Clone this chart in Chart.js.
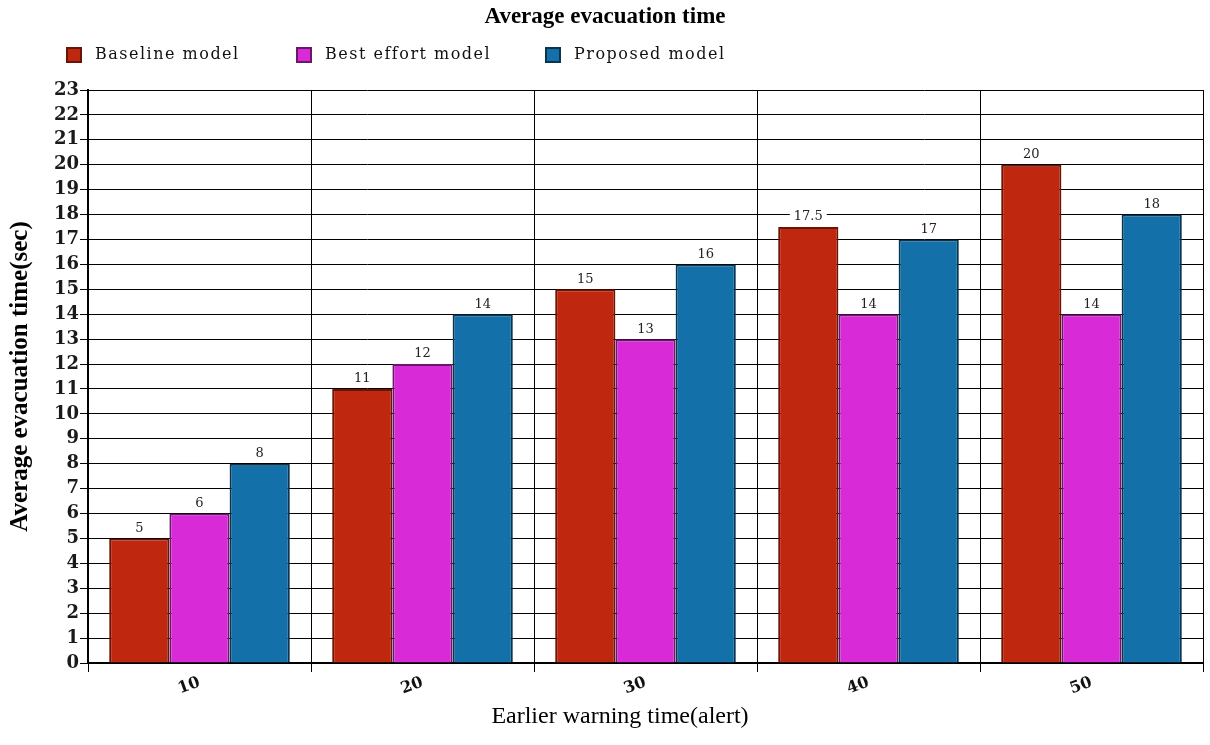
<!DOCTYPE html>
<html>
<head>
<meta charset="utf-8">
<script src="https://cdn.jsdelivr.net/npm/chart.js@4.4.1/dist/chart.umd.min.js"></script>
<style>
  html, body { margin: 0; padding: 0; background: #fff; }
  #wrap { width: 1210px; height: 745px; }
</style>
</head>
<body>
<div id="wrap"><canvas id="chart" width="1210" height="745"></canvas></div>
<script>
// chart data
const categories = ['10', '20', '30', '40', '50'];
const baselineModel = [5, 11, 15, 17.5, 20];
const bestEffortModel = [6, 12, 13, 14, 14];
const proposedModel = [8, 14, 16, 17, 18];
const seriesNames = ['Baseline model', 'Best effort model', 'Proposed model'];
const yMin = 0;
const yMax = 23;
const yStep = 1;

const chartTitle = 'Average evacuation time';
const xTitle = 'Earlier warning time(alert)';
const yTitle = 'Average evacuation time(sec)';

const FILLS = ['#C0270F', '#D82AD6', '#1470A9'];
const EDGES = ['#6b1306', '#6a166a', '#0a3550'];

// title, legend and x title are placed by hand to follow the original layout
const headerPlugin = {
  id: 'header',
  afterDraw(chart) {
    const ctx = chart.ctx;
    ctx.save();
    ctx.fillStyle = '#000';
    ctx.textBaseline = 'middle';
    ctx.textAlign = 'center';
    ctx.font = 'bold 23px "Liberation Serif"';
    ctx.fillText(chartTitle, 605, 17);

    const boxX = [66, 296, 545];
    ctx.textAlign = 'left';
    ctx.font = '16px "DejaVu Serif"';
    ctx.letterSpacing = '1.5px';
    chart.data.datasets.forEach((ds, i) => {
      ctx.fillStyle = ds.backgroundColor;
      ctx.fillRect(boxX[i], 47, 16, 16);
      ctx.strokeStyle = ds.borderColor;
      ctx.lineWidth = 2;
      ctx.strokeRect(boxX[i] + 1, 48, 14, 14);
      ctx.fillStyle = '#111';
      ctx.fillText(ds.label, boxX[i] + 29, 55);
    });
    ctx.letterSpacing = '0px';

    ctx.textAlign = 'center';
    ctx.fillStyle = '#000';
    ctx.font = '24px "Liberation Serif"';
    ctx.fillText(xTitle, 620, 717);
    ctx.restore();
  }
};

// value labels on white boxes above each bar
const valueLabels = {
  id: 'valueLabels',
  afterDatasetsDraw(chart) {
    const ctx = chart.ctx;
    ctx.save();
    ctx.font = '13px "DejaVu Serif"';
    ctx.textAlign = 'center';
    ctx.textBaseline = 'middle';
    chart.data.datasets.forEach((ds, i) => {
      chart.getDatasetMeta(i).data.forEach((bar, j) => {
        const txt = String(ds.data[j]);
        const w = ctx.measureText(txt).width + 8;
        ctx.fillStyle = '#fff';
        ctx.fillRect(bar.x - w / 2, bar.y - 17, w, 14);
        ctx.fillStyle = '#222';
        ctx.fillText(txt, bar.x, bar.y - 10);
      });
    });
    ctx.restore();
  }
};

const seriesData = [baselineModel, bestEffortModel, proposedModel];

new Chart(document.getElementById('chart'), {
  type: 'bar',
  data: {
    labels: categories,
    datasets: seriesData.map((d, i) => ({
      label: seriesNames[i],
      data: d,
      backgroundColor: FILLS[i],
      borderColor: EDGES[i],
      borderWidth: 2,
      borderSkipped: 'bottom',
      categoryPercentage: 0.81,
      barPercentage: 1.0,
    })),
  },
  options: {
    responsive: false,
    animation: false,
    layout: { padding: { top: 90, right: 7, left: 0, bottom: 0 } },
    plugins: {
      legend: { display: false },
      title: { display: false },
      tooltip: { enabled: false },
    },
    scales: {
      x: {
        grid: { offset: true, color: '#000', lineWidth: 1, tickLength: 9 },
        border: { color: '#000', width: 2 },
        ticks: {
          color: '#111',
          font: { family: 'DejaVu Serif', size: 16, weight: 'bold' },
          minRotation: 20,
          maxRotation: 20,
          padding: 1,
        },
        afterFit: (scale) => { scale.height = 82; },
      },
      y: {
        min: yMin,
        max: yMax,
        grid: { color: '#000', lineWidth: 1, tickLength: 8 },
        border: { color: '#000', width: 2 },
        ticks: {
          stepSize: yStep,
          color: '#1a1a1a',
          padding: 1,
          font: { family: 'DejaVu Serif', size: 18, weight: 'bold' },
        },
        title: {
          display: true,
          text: yTitle,
          color: '#000',
          font: { family: 'Liberation Serif', size: 25, weight: 'bold' },
          padding: { top: 6, bottom: 0 },
        },
        afterFit: (scale) => { scale.width = 88; },
      },
    },
  },
  plugins: [headerPlugin, valueLabels],
});
</script>
</body>
</html>
